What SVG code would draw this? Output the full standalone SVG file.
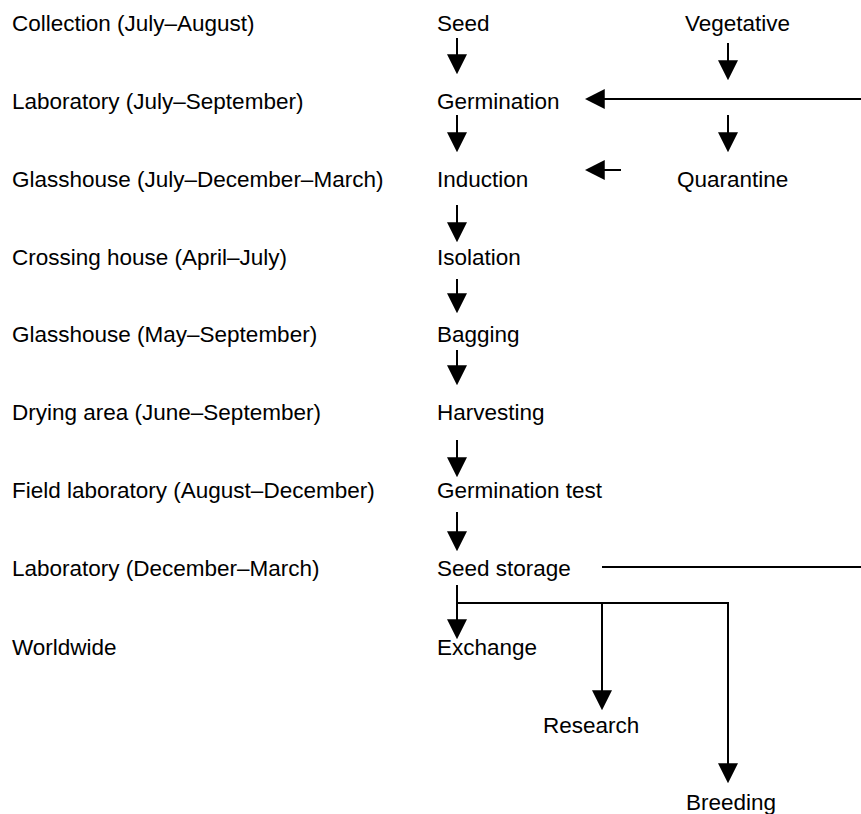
<svg xmlns="http://www.w3.org/2000/svg" width="861" height="814" viewBox="0 0 861 814">
<style>
text{font-family:"Liberation Sans",Arial,sans-serif;font-size:22.5px;fill:#000}
.c{stroke:#000;stroke-width:2;fill:none}
.a{marker-end:url(#ah)}
</style>
<defs>
<marker id="ah" markerUnits="userSpaceOnUse" markerWidth="20" markerHeight="20" viewBox="0 0 18 18" refX="16" refY="9" orient="auto">
<path d="M0,0 L18,9 L0,18 Z" fill="#000"/>
</marker>
</defs>
<rect width="861" height="814" fill="#fff"/>
<g id="labels">
<g id="l1"><text x="12" y="31">Collection (July–August)</text></g>
<g id="l2"><text x="12" y="109">Laboratory (July–September)</text></g>
<g id="l3"><text x="12" y="187">Glasshouse (July–December–March)</text></g>
<g id="l4"><text x="12" y="265">Crossing house (April–July)</text></g>
<g id="l5"><text x="12" y="342">Glasshouse (May–September)</text></g>
<g id="l6"><text x="12" y="420">Drying area (June–September)</text></g>
<g id="l7"><text x="12" y="498">Field laboratory (August–December)</text></g>
<g id="l8"><text x="12" y="576">Laboratory (December–March)</text></g>
<g id="l9"><text x="12" y="655">Worldwide</text></g>
</g>
<g id="seed"><text x="437" y="31">Seed</text></g>
<g id="vegetative"><text x="685" y="31">Vegetative</text></g>
<g id="germination"><text x="437" y="109">Germination</text></g>
<g id="induction"><text x="437" y="187">Induction</text></g>
<g id="quarantine"><text x="677" y="187">Quarantine</text></g>
<g id="isolation"><text x="437" y="265">Isolation</text></g>
<g id="bagging"><text x="437" y="342">Bagging</text></g>
<g id="harvesting"><text x="437" y="420">Harvesting</text></g>
<g id="germtest"><text x="437" y="498">Germination test</text></g>
<g id="storage"><text x="437" y="576">Seed storage</text></g>
<g id="exchange"><text x="437" y="655">Exchange</text></g>
<g id="research"><text x="543" y="733">Research</text></g>
<g id="breeding"><text x="686" y="810">Breeding</text></g>
<g id="connectors">
<line class="c a" x1="457" y1="38" x2="457" y2="72"/>
<line class="c a" x1="728" y1="43" x2="728" y2="78"/>
<line class="c a" x1="862" y1="99" x2="587" y2="99"/>
<line class="c a" x1="457" y1="115" x2="457" y2="150"/>
<line class="c a" x1="728" y1="115" x2="728" y2="150"/>
<line class="c a" x1="621" y1="170" x2="587" y2="170"/>
<line class="c a" x1="457" y1="205" x2="457" y2="240"/>
<line class="c a" x1="457" y1="279" x2="457" y2="311"/>
<line class="c a" x1="457" y1="350" x2="457" y2="383"/>
<line class="c a" x1="457" y1="440" x2="457" y2="475"/>
<line class="c a" x1="457" y1="512" x2="457" y2="549"/>
<line class="c" x1="602" y1="567" x2="862" y2="567"/>
<line class="c a" x1="457" y1="585" x2="457" y2="637"/>
<polyline class="c" points="457,603 728,603"/>
<line class="c a" x1="602" y1="603" x2="602" y2="708"/>
<line class="c a" x1="728" y1="602" x2="728" y2="781"/>
</g>
</svg>
